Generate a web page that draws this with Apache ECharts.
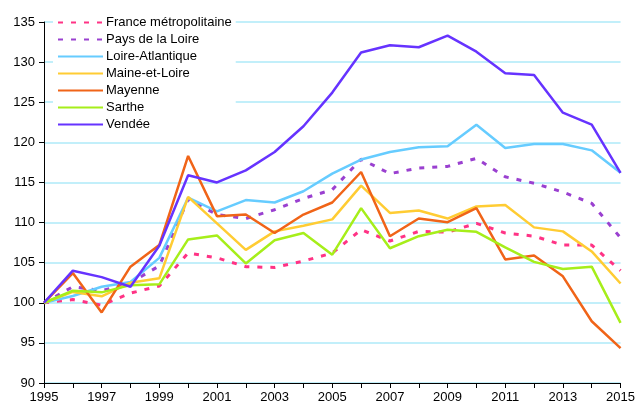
<!DOCTYPE html>
<html><head><meta charset="utf-8">
<script src="https://cdn.jsdelivr.net/npm/echarts@6/dist/echarts.min.js"></script>
<style>html,body{margin:0;padding:0;background:#fff}#c{width:638px;height:410px}</style>
</head><body><div id="c"></div>
<script>
const years = ['1995','1996','1997','1998','1999','2000','2001','2002','2003','2004','2005','2006','2007','2008','2009','2010','2011','2012','2013','2014','2015'];
const franceMetro = [100,100.4,99.7,101.2,102.1,106.2,105.6,104.5,104.4,105.2,106.2,109.1,107.7,108.9,108.8,109.9,108.7,108.3,107.2,107.2,104.0];
const paysDeLaLoire = [100,102.0,101.5,102.5,104.6,112.9,111.0,110.5,111.6,113.0,114.1,117.9,116.1,116.8,117.0,118.0,115.7,114.9,113.8,112.4,108.1];
const loireAtlantique = [100,100.85,102.0,102.6,105.6,113.1,111.4,112.8,112.5,113.9,116.1,117.85,118.8,119.4,119.5,122.2,119.3,119.8,119.8,119.0,116.2];
const maineEtLoire = [100,101.35,100.8,102.5,103.05,113.2,109.9,106.6,108.9,109.6,110.4,114.6,111.2,111.5,110.5,112.0,112.2,109.4,108.9,106.4,102.4];
const mayenne = [100,103.7,98.8,104.5,107.2,118.3,110.8,111.0,108.7,111.0,112.5,116.3,108.3,110.5,110.05,111.8,105.4,105.9,103.3,97.7,94.35];
const sarthe = [100,101.5,101.3,102.2,102.3,107.9,108.4,104.9,107.8,108.7,106.0,111.8,106.8,108.3,109.1,108.85,106.9,105.1,104.2,104.5,97.5];
const vendee = [100,104.0,103.2,102.0,107.1,115.9,115.0,116.5,118.8,122.0,126.2,131.2,132.1,131.85,133.3,131.3,128.6,128.4,123.7,122.2,116.2];
const seriesNames = ['France métropolitaine','Pays de la Loire','Loire-Atlantique','Maine-et-Loire','Mayenne','Sarthe','Vendée'];
const seriesData = [franceMetro, paysDeLaLoire, loireAtlantique, maineEtLoire, mayenne, sarthe, vendee];
const colors = ['#ff3385','#9a40d0','#66ccff','#ffcc33','#f06418','#a6ee1a','#6633ff'];
const dashed = [true,true,false,false,false,false,false];

const font = 'Liberation Sans, Arial, sans-serif';
const chart = echarts.init(document.getElementById('c'));
chart.setOption({
  animation: false,
  backgroundColor: '#fff',
  grid: {left: 44, right: 16, top: 22, bottom: 27},
  legend: {
    orient: 'vertical', left: 53, top: 13,
    backgroundColor: '#fff', padding: [3, 4, 3, 4],
    itemWidth: 45, itemHeight: 13, itemGap: 4,
    itemStyle: {opacity: 0},
    textStyle: {fontFamily: font, fontSize: 13, color: '#000', padding: [0,0,0,-2]},
    data: seriesNames
  },
  xAxis: {
    type: 'category', data: years, boundaryGap: false,
    axisLine: {lineStyle: {color: '#000', width: 1}},
    axisTick: {show: true, interval: 0, length: 5, lineStyle: {color: '#000'}},
    axisLabel: {interval: 1, fontFamily: font, fontSize: 13, color: '#000', margin: 8},
    splitLine: {show: false}
  },
  yAxis: {
    type: 'value', min: 90, max: 135, interval: 5,
    axisLine: {show: true, lineStyle: {color: '#000', width: 1}},
    axisTick: {show: true, length: 5, lineStyle: {color: '#000'}},
    axisLabel: {fontFamily: font, fontSize: 13, color: '#000', margin: 9},
    splitLine: {show: true, lineStyle: {color: '#c2effa', width: 2}}
  },
  series: seriesNames.map((n, i) => ({
    name: n, type: 'line', data: seriesData[i], showSymbol: false, symbol: 'none',
    color: colors[i],
    lineStyle: {color: colors[i], width: dashed[i] ? 3 : 2.5, type: dashed[i] ? [5, 8] : 'solid'},
    z: 2 + i
  }))
});
</script></body></html>
